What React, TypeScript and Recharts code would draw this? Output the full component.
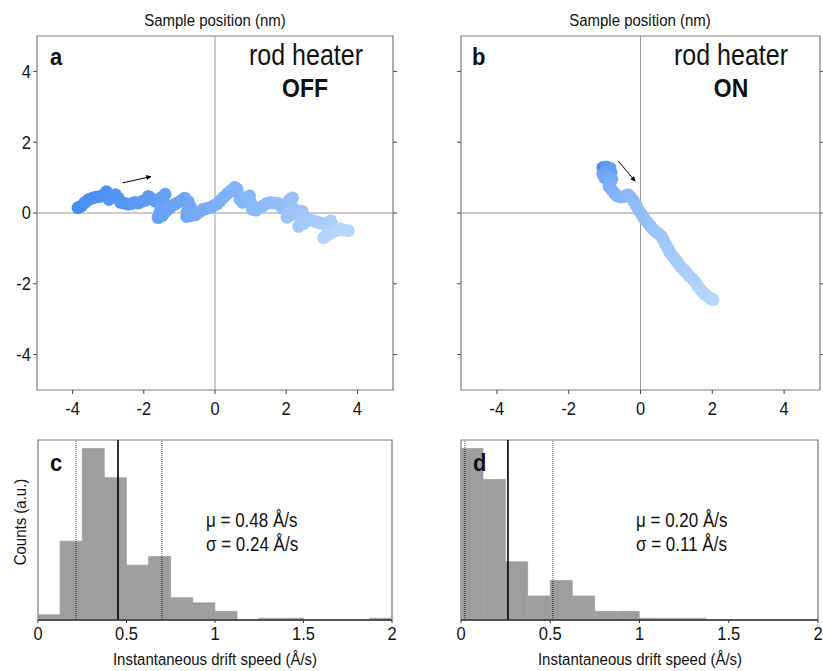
import React from 'react';
import {
  ScatterChart,
  Scatter,
  ComposedChart,
  Bar,
  XAxis,
  YAxis,
  ReferenceLine,
  ReferenceArea,
  Cell,
} from 'recharts';

// sample trajectory, rod heater OFF (nm), in time order
const offX = [
  -3.85, -3.75, -3.65, -3.55, -3.45, -3.35, -3.25, -3.15, -3.05, -3.0, -2.98, -2.9, -2.8, -2.72, -2.65,
  -2.55, -2.45, -2.35, -2.25, -2.15, -2.05, -1.95, -1.87, -1.78, -1.68, -1.58, -1.48, -1.4, -1.45, -1.52,
  -1.55, -1.6, -1.48, -1.38, -1.28, -1.18, -1.07, -0.95, -0.85, -0.75, -0.7, -0.78, -0.8, -0.68, -0.55,
  -0.45, -0.35, -0.25, -0.15, -0.05, 0.05, 0.15, 0.25, 0.35, 0.45, 0.55, 0.62, 0.65, 0.7, 0.78,
  0.88, 0.97, 1.0, 1.05, 1.15, 1.25, 1.35, 1.45, 1.55, 1.65, 1.75, 1.85, 1.92, 2.0, 2.1,
  2.18, 2.15, 2.05, 2.02, 2.15, 2.25, 2.35, 2.45, 2.5, 2.42, 2.35, 2.48, 2.6, 2.72, 2.85,
  2.95, 3.05, 3.15, 3.25, 3.3, 3.25, 3.15, 3.05, 3.15, 3.28, 3.4, 3.52, 3.62, 3.75,
];
const offY = [
  0.15, 0.2, 0.3, 0.38, 0.42, 0.45, 0.46, 0.5, 0.6, 0.5, 0.38, 0.45, 0.52, 0.42, 0.3,
  0.28, 0.25, 0.26, 0.3, 0.28, 0.33, 0.36, 0.47, 0.4, 0.33, 0.38, 0.45, 0.53, 0.3, 0.15,
  0.02, -0.13, -0.08, 0.05, 0.15, 0.22, 0.28, 0.35, 0.42, 0.32, 0.2, 0.05, -0.1, -0.08, -0.05,
  0.02, 0.1, 0.12, 0.15, 0.2, 0.25, 0.35, 0.45, 0.55, 0.63, 0.72, 0.68, 0.55, 0.38, 0.3,
  0.4, 0.48, 0.3, 0.1, 0.08, 0.15, 0.2, 0.27, 0.3, 0.28, 0.28, 0.2, 0.12, 0.25, 0.38,
  0.43, 0.2, 0.0, -0.12, -0.05, 0.05, 0.06, 0.05, -0.1, -0.25, -0.38, -0.3, -0.22, -0.2, -0.25,
  -0.28, -0.3, -0.3, -0.22, -0.35, -0.5, -0.6, -0.7, -0.62, -0.55, -0.5, -0.45, -0.48, -0.5,
];

// sample trajectory, rod heater ON (nm), in time order
const onX = [
  -1.05, -0.95, -0.85, -0.82, -0.95, -1.05, -1.0, -0.9, -0.8, -0.85, -0.88, -0.8, -0.72, -0.65, -0.55,
  -0.45, -0.35, -0.28, -0.2, -0.12, -0.05, 0.02, 0.1, 0.18, 0.26, 0.34, 0.42, 0.5, 0.58, 0.64,
  0.7, 0.76, 0.82, 0.9, 0.98, 1.05, 1.12, 1.2, 1.28, 1.36, 1.44, 1.52, 1.58, 1.65, 1.72,
  1.8, 1.88, 1.96, 2.02,
];
const onY = [
  1.28, 1.3, 1.27, 1.15, 1.15, 1.1, 1.0, 1.02, 0.95, 0.85, 0.75, 0.65, 0.55, 0.48, 0.45,
  0.47, 0.52, 0.45, 0.35, 0.22, 0.08, -0.02, -0.15, -0.25, -0.35, -0.45, -0.52, -0.58, -0.66, -0.76,
  -0.88, -1.0, -1.12, -1.22, -1.32, -1.42, -1.52, -1.6, -1.68, -1.78, -1.86, -1.94, -2.04, -2.14, -2.22,
  -2.3, -2.36, -2.42, -2.45,
];

const posTicks = [-4, -2, 0, 2, 4];

// drift speed histograms (Å/s), bins of 0.125
const binCenters = [
  0.0625, 0.1875, 0.3125, 0.4375, 0.5625, 0.6875, 0.8125, 0.9375,
  1.0625, 1.1875, 1.3125, 1.4375, 1.5625, 1.6875, 1.8125, 1.9375,
];
const countsOff = [3, 46, 100, 83, 32, 37, 13, 10, 5, 0, 1, 1, 0, 0, 0, 1];
const countsOn = [100, 82, 34, 14, 23, 14, 5, 5, 1, 1, 1, 0, 0, 0, 0, 0];
const speedTicks = [0, 0.5, 1, 1.5, 2];

const statsOff = { lo: 0.215, mean: 0.452, hi: 0.7, mu: '0.48', sigma: '0.24' };
const statsOn = { lo: 0.022, mean: 0.263, hi: 0.515, mu: '0.20', sigma: '0.11' };

const FONT = '"Liberation Sans", Arial, Helvetica, sans-serif';
const STRETCH = 1.15;
const BAR = '#9e9e9e';

const dark = [74, 142, 242];
const light = [182, 214, 251];
const shade = (t: number) => {
  const c = dark.map((d, k) => Math.round(d + (light[k] - d) * t));
  return `rgb(${c[0]},${c[1]},${c[2]})`;
};

const StretchTick = (props: any) => {
  const { x, y, payload, textAnchor, verticalAnchor, tickFormatter } = props;
  const label = tickFormatter ? tickFormatter(payload.value) : String(payload.value);
  if (!label) return null;
  const dy = verticalAnchor === 'start' ? '0.71em' : verticalAnchor === 'end' ? '0' : '0.355em';
  return (
    <text
      transform={`translate(${x},${y}) scale(1,1.1)`}
      textAnchor={textAnchor}
      dy={dy}
      fontSize={16.5}
      fontFamily={FONT}
      fill="#111"
    >
      {label}
    </text>
  );
};

const blank = () => '';

const Dot = (props: any) => {
  if (props.cx == null || props.cy == null) return null;
  return <circle cx={props.cx} cy={props.cy} r={6.4} fill={props.fill} />;
};

type PosProps = {
  xs: number[];
  ys: number[];
  left: number;
  width: number;
  yWidth: number;
  rWidth: number;
  gamma: number;
  showY: boolean;
  arrow: { x: number; y: number }[];
  id: string;
};

function PositionPanel({ xs, ys, left, width, yWidth, rWidth, gamma, showY, arrow, id }: PosProps) {
  const pts = xs.map((x, i) => ({ x, y: ys[i] }));
  const n = pts.length;
  const tickLine = { stroke: '#444' };
  return (
    <div style={{ position: 'absolute', left, top: 0 }}>
      <ScatterChart width={width} height={430} margin={{ top: 36, right: 0, bottom: 10, left: 0 }}>
        <defs>
          <marker id={id} viewBox="0 0 10 10" refX="9" refY="5" markerWidth="6" markerHeight="5" orient="auto">
            <path d="M0,0 L10,5 L0,10 z" fill="#000" />
          </marker>
        </defs>
        <XAxis
          xAxisId="x"
          type="number"
          dataKey="x"
          domain={[-5, 5]}
          allowDataOverflow
          ticks={posTicks}
          interval={0}
          height={30}
          axisLine={false}
          tickSize={4}
          tickMargin={8}
          tickLine={tickLine}
          tick={<StretchTick />}
        />
        <XAxis
          xAxisId="xi"
          type="number"
          dataKey="x"
          domain={[-5, 5]}
          allowDataOverflow
          ticks={posTicks}
          interval={0}
          mirror
          height={0}
          axisLine={false}
          tickSize={4}
          tickLine={tickLine}
          tickFormatter={blank}
        />
        <YAxis
          yAxisId="l"
          type="number"
          dataKey="y"
          domain={[-5, 5]}
          allowDataOverflow
          ticks={posTicks}
          interval={0}
          width={yWidth}
          axisLine={false}
          tickSize={4}
          tickMargin={2}
          tickLine={tickLine}
          tick={<StretchTick />}
          tickFormatter={showY ? undefined : blank}
        />
        <YAxis
          yAxisId="li"
          type="number"
          dataKey="y"
          domain={[-5, 5]}
          allowDataOverflow
          ticks={posTicks}
          interval={0}
          mirror
          width={0}
          axisLine={false}
          tickSize={4}
          tickLine={tickLine}
          tickFormatter={blank}
        />
        <YAxis
          yAxisId="r"
          orientation="right"
          type="number"
          dataKey="y"
          domain={[-5, 5]}
          allowDataOverflow
          ticks={posTicks}
          interval={0}
          width={rWidth}
          axisLine={false}
          tickSize={4}
          tickLine={tickLine}
          tickFormatter={blank}
        />
        <YAxis
          yAxisId="ri"
          orientation="right"
          type="number"
          dataKey="y"
          domain={[-5, 5]}
          allowDataOverflow
          ticks={posTicks}
          interval={0}
          mirror
          width={0}
          axisLine={false}
          tickSize={4}
          tickLine={tickLine}
          tickFormatter={blank}
        />
        <ReferenceLine xAxisId="x" yAxisId="l" x={0} stroke="#999" strokeWidth={1} />
        <ReferenceLine xAxisId="x" yAxisId="l" y={0} stroke="#999" strokeWidth={1} />
        <ReferenceArea
          xAxisId="x"
          yAxisId="l"
          x1={-5}
          x2={5}
          y1={-5}
          y2={5}
          fill="none"
          fillOpacity={0}
          stroke="#7a7a7a"
          strokeWidth={1.2}
        />
        <Scatter data={pts} xAxisId="x" yAxisId="l" isAnimationActive={false} shape={<Dot />}>
          {pts.map((_, i) => (
            <Cell key={i} fill={shade(Math.pow(i / (n - 1), gamma))} />
          ))}
        </Scatter>
        <ReferenceLine
          xAxisId="x"
          yAxisId="l"
          segment={arrow}
          stroke="#000"
          strokeWidth={1}
          markerEnd={`url(#${id})`}
        />
      </ScatterChart>
    </div>
  );
}

type HistProps = {
  counts: number[];
  stats: { lo: number; mean: number; hi: number };
  left: number;
  width: number;
  mLeft: number;
  mRight: number;
};

function HistPanel({ counts, stats, left, width, mLeft, mRight }: HistProps) {
  const data = binCenters.map((mid, i) => ({ bin: String(mid), mid, count: counts[i] }));
  return (
    <div style={{ position: 'absolute', left, top: 420 }}>
      <ComposedChart
        width={width}
        height={251}
        data={data}
        barCategoryGap={0}
        margin={{ top: 20, right: mRight, bottom: 21, left: mLeft }}
      >
        <XAxis
          xAxisId="num"
          dataKey="mid"
          type="number"
          domain={[0, 2]}
          allowDataOverflow
          ticks={speedTicks}
          interval={0}
          height={30}
          axisLine={{ stroke: '#333', strokeWidth: 1.3 }}
          tickSize={3}
          tickMargin={4}
          tickLine={{ stroke: '#333' }}
          tick={<StretchTick />}
        />
        <XAxis
          xAxisId="numi"
          dataKey="mid"
          type="number"
          domain={[0, 2]}
          allowDataOverflow
          ticks={speedTicks}
          interval={0}
          mirror
          height={0}
          axisLine={false}
          tickSize={4}
          tickLine={{ stroke: '#333' }}
          tickFormatter={blank}
        />
        <XAxis xAxisId="cat" dataKey="bin" type="category" hide height={0} />
        <YAxis yAxisId="c" hide domain={[0, 105]} allowDataOverflow />
        <Bar
          xAxisId="cat"
          yAxisId="c"
          dataKey="count"
          fill={BAR}
          stroke={BAR}
          strokeWidth={0.8}
          isAnimationActive={false}
        />
        <ReferenceArea
          xAxisId="num"
          yAxisId="c"
          x1={0}
          x2={2}
          y1={0}
          y2={105}
          fill="none"
          fillOpacity={0}
          stroke="#7a7a7a"
          strokeWidth={1.2}
        />
        <ReferenceLine xAxisId="num" yAxisId="c" x={stats.lo} stroke="#000" strokeWidth={0.8} strokeDasharray="1 1" />
        <ReferenceLine xAxisId="num" yAxisId="c" x={stats.hi} stroke="#000" strokeWidth={0.8} strokeDasharray="1 1" />
        <ReferenceLine xAxisId="num" yAxisId="c" x={stats.mean} stroke="#000" strokeWidth={1.6} />
      </ComposedChart>
    </div>
  );
}

const T = ({
  x,
  y,
  size,
  bold,
  anchor = 'middle',
  rotate,
  s = STRETCH,
  children,
}: {
  x: number;
  y: number;
  size: number;
  bold?: boolean;
  anchor?: 'start' | 'middle' | 'end';
  rotate?: number;
  s?: number;
  children: React.ReactNode;
}) => (
  <text
    transform={`translate(${x},${y})${rotate ? ` rotate(${rotate})` : ''} scale(1,${s})`}
    textAnchor={anchor}
    fontSize={size}
    fontWeight={bold ? 'bold' : 'normal'}
    fontFamily={FONT}
    fill="#111"
  >
    {children}
  </text>
);

export default function App() {
  return (
    <div style={{ position: 'absolute', left: 0, top: 0, width: 823, height: 671, background: '#fff', overflow: 'hidden' }}>
      <PositionPanel
        xs={offX}
        ys={offY}
        left={0}
        width={400}
        yWidth={37}
        rWidth={7}
        gamma={1.1}
        showY
        arrow={[
          { x: -2.6, y: 0.85 },
          { x: -1.8, y: 1.03 },
        ]}
        id="arrowOff"
      />
      <PositionPanel
        xs={onX}
        ys={onY}
        left={420}
        width={403}
        yWidth={41}
        rWidth={3}
        gamma={0.5}
        showY={false}
        arrow={[
          { x: -0.62, y: 1.47 },
          { x: -0.15, y: 0.9 },
        ]}
        id="arrowOn"
      />
      <HistPanel counts={countsOff} stats={statsOff} left={0} width={400} mLeft={38} mRight={8} />
      <HistPanel counts={countsOn} stats={statsOn} left={420} width={403} mLeft={41} mRight={5} />
      <svg width={823} height={671} style={{ position: 'absolute', left: 0, top: 0, pointerEvents: 'none' }}>
        <T x={215} y={26} size={15}>Sample position (nm)</T>
        <T x={640} y={26} size={15}>Sample position (nm)</T>
        <T x={50} y={65} size={22} bold anchor="start" s={1.1}>a</T>
        <T x={472} y={65} size={22} bold anchor="start" s={1.1}>b</T>
        <T x={306} y={65} size={25} s={1.2}>rod heater</T>
        <T x={305} y={97} size={23} bold s={1.1}>OFF</T>
        <T x={731} y={65} size={25} s={1.2}>rod heater</T>
        <T x={731} y={97} size={23} bold s={1.1}>ON</T>
        <T x={50} y={471} size={22} bold anchor="start" s={1.1}>c</T>
        <T x={473} y={471} size={22} bold anchor="start" s={1.1}>d</T>
        <T x={206} y={527} size={17} anchor="start">μ = {statsOff.mu} Å/s</T>
        <T x={206} y={551} size={17} anchor="start">σ = {statsOff.sigma} Å/s</T>
        <T x={636} y={527} size={17} anchor="start">μ = {statsOn.mu} Å/s</T>
        <T x={636} y={551} size={17} anchor="start">σ = {statsOn.sigma} Å/s</T>
        <T x={215} y={665} size={15}>Instantaneous drift speed (Å/s)</T>
        <T x={640} y={665} size={15}>Instantaneous drift speed (Å/s)</T>
        <T x={26} y={522} size={15} rotate={-90}>Counts (a.u.)</T>
      </svg>
    </div>
  );
}
